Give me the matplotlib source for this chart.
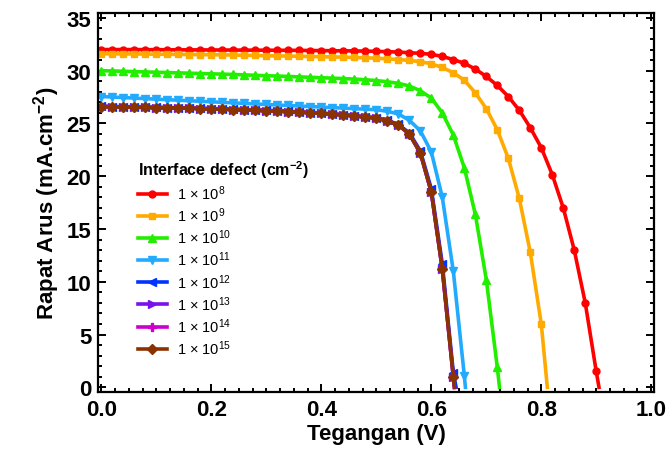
#python3

#import libraries
import numpy as np
import matplotlib
matplotlib.use('Agg')
import matplotlib.pyplot as plt
from matplotlib.ticker import MultipleLocator

plt.rcParams['font.family'] = ['Liberation Sans', 'DejaVu Sans']
plt.rcParams['mathtext.fontset'] = 'custom'
plt.rcParams['mathtext.rm'] = 'Liberation Sans'
plt.rcParams['mathtext.bf'] = 'Liberation Sans:bold'
plt.rcParams['mathtext.default'] = 'regular'

#J-V data, voltage sweep step 0.02 V, last point = Voc (J=0)
step = 0.02

j_1e8 = [32.0, 32.0, 32.0, 32.0, 31.99, 31.99, 31.98, 31.98, 31.97, 31.97, 31.96,
         31.96, 31.95, 31.95, 31.94, 31.94, 31.93, 31.93, 31.92, 31.91, 31.9,
         31.89, 31.88, 31.87, 31.85, 31.83, 31.8, 31.76, 31.7, 31.64, 31.55,
         31.35, 31.05, 30.7, 30.15, 29.45, 28.6, 27.55, 26.25, 24.6, 22.7,
         20.15, 17.0, 13.0, 8.0, 1.5]
voc_1e8 = 0.905

j_1e9 = [31.6, 31.6, 31.59, 31.58, 31.57, 31.56, 31.55, 31.54, 31.53, 31.52, 31.51,
         31.5, 31.48, 31.46, 31.44, 31.42, 31.4, 31.38, 31.36, 31.34, 31.32,
         31.3, 31.28, 31.25, 31.22, 31.18, 31.12, 31.05, 30.97, 30.85, 30.65,
         30.3, 29.8, 29.1, 27.9, 26.4, 24.4, 21.7, 17.9, 12.8, 6.0]
voc_1e9 = 0.811

j_1e10 = [30.0, 29.97, 29.94, 29.91, 29.88, 29.85, 29.82, 29.79, 29.76, 29.73, 29.7,
          29.67, 29.64, 29.6, 29.56, 29.52, 29.49, 29.45, 29.41, 29.37, 29.33,
          29.29, 29.25, 29.2, 29.14, 29.06, 28.95, 28.8, 28.55, 28.1, 27.4,
          26.0, 23.9, 20.8, 16.4, 10.2, 1.9]
voc_1e10 = 0.724

j_1e11 = [27.55, 27.5, 27.45, 27.4, 27.35, 27.3, 27.25, 27.2, 27.15, 27.1, 27.05,
          27.0, 26.95, 26.9, 26.85, 26.8, 26.75, 26.7, 26.65, 26.6, 26.55,
          26.5, 26.45, 26.4, 26.35, 26.3, 26.15, 25.9, 25.3, 24.3, 22.3,
          18.0, 11.0, 1.1]
voc_1e11 = 0.662

j_1e12 = [26.62, 26.6, 26.58, 26.56, 26.54, 26.52, 26.5, 26.48, 26.46, 26.43, 26.4,
          26.37, 26.34, 26.31, 26.27, 26.23, 26.19, 26.14, 26.09, 26.03, 25.97,
          25.9, 25.82, 25.73, 25.63, 25.53, 25.3, 24.9, 24.1, 22.4, 18.8,
          11.7, 1.4]
voc_1e12 = 0.645

j_1e13 = [26.6, 26.58, 26.56, 26.54, 26.52, 26.5, 26.48, 26.46, 26.44, 26.41, 26.38,
          26.35, 26.32, 26.29, 26.25, 26.21, 26.17, 26.12, 26.07, 26.01, 25.95,
          25.88, 25.8, 25.71, 25.61, 25.5, 25.25, 24.85, 24.0, 22.2, 18.5,
          11.2, 1.0]
voc_1e13 = 0.642

j_1e14 = [26.6, 26.58, 26.56, 26.54, 26.52, 26.5, 26.48, 26.46, 26.44, 26.41, 26.38,
          26.35, 26.32, 26.29, 26.25, 26.21, 26.17, 26.12, 26.07, 26.01, 25.95,
          25.88, 25.8, 25.71, 25.61, 25.5, 25.25, 24.85, 24.0, 22.2, 18.5,
          11.2, 1.0]
voc_1e14 = 0.642

j_1e15 = [26.6, 26.58, 26.56, 26.54, 26.52, 26.5, 26.48, 26.46, 26.44, 26.41, 26.38,
          26.35, 26.32, 26.29, 26.25, 26.21, 26.17, 26.12, 26.07, 26.01, 25.95,
          25.88, 25.8, 25.71, 25.61, 25.5, 25.25, 24.85, 24.0, 22.2, 18.5,
          11.2, 1.0]
voc_1e15 = 0.642

exps = [8, 9, 10, 11, 12, 13, 14, 15]
curves = [j_1e8, j_1e9, j_1e10, j_1e11, j_1e12, j_1e13, j_1e14, j_1e15]
vocs = [voc_1e8, voc_1e9, voc_1e10, voc_1e11, voc_1e12, voc_1e13, voc_1e14, voc_1e15]
colors = ['#ff0000', '#ffaa00', '#22ee00', '#22aaff', '#0033ff', '#7711ee', '#cc00cc', '#8b3300']
markers = ['o', 's', '^', 'v', '<', '>', 'P', 'D']
msizes = [5, 5, 5.5, 5.5, 5.5, 5.5, 5.5, 5]

fig = plt.figure(figsize=(6.68, 4.56), dpi=100)
ax = fig.add_axes([0.147, 0.138, 0.832, 0.831])

for e, jj, voc, c, m, ms in zip(exps, curves, vocs, colors, markers, msizes):
    vv = list(np.round(np.arange(len(jj)) * step, 2)) + [voc]
    yy = list(jj) + [0.0]
    ax.plot(vv, yy, color=c, lw=2.6, marker=m, ms=ms, markevery=list(range(len(jj))),
            label=r'1 $\times$ 10$^{%d}$' % e)

#axes
ax.set_xlim(-0.006, 1.005)
ax.set_ylim(-0.45, 35.45)
ax.xaxis.set_major_locator(MultipleLocator(0.2))
ax.xaxis.set_minor_locator(MultipleLocator(0.025))
ax.yaxis.set_major_locator(MultipleLocator(5))
ax.yaxis.set_minor_locator(MultipleLocator(1))
ax.set_xticklabels(['%.1f' % t for t in ax.get_xticks()])
ax.tick_params(which='both', direction='in', top=True, right=True, width=1.4)
ax.tick_params(which='major', length=6, labelsize=16, pad=5)
ax.tick_params(which='minor', length=3)
for lab in ax.get_xticklabels() + ax.get_yticklabels():
    lab.set_fontweight('bold')
for sp in ax.spines.values():
    sp.set_linewidth(1.6)

ax.set_xlabel('Tegangan (V)', fontsize=16, fontweight='bold', labelpad=2)
ax.set_ylabel(r'Rapat Arus (mA.cm$^{\mathbf{-2}}$)', fontsize=16, fontweight='bold', labelpad=3)

leg = ax.legend(loc='upper left', bbox_to_anchor=(0.055, 0.64), frameon=False,
                fontsize=10.5, title=r'Interface defect (cm$^{\mathbf{-2}}$)',
                handlelength=2.0, handletextpad=0.7, labelspacing=0.24,
                borderaxespad=0.2)
leg.get_title().set_fontweight('bold')
leg.get_title().set_fontsize(11.5)
leg._legend_box.align = 'left'

plt.savefig('out.png', dpi=100)
